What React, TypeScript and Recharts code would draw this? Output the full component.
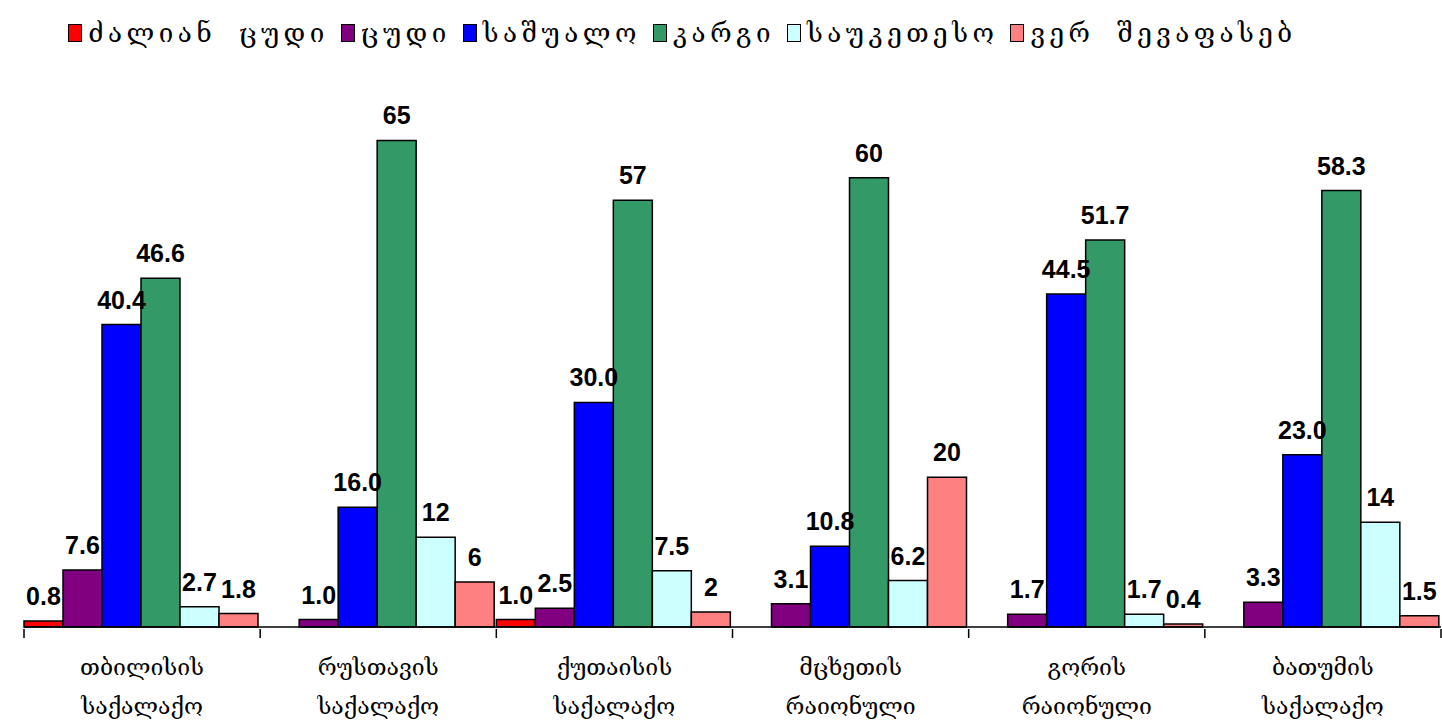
import { BarChart, Bar, XAxis, YAxis, Legend, LabelList } from 'recharts';

const CATEGORIES = [
  'თბილისის საქალაქო',
  'რუსთავის საქალაქო',
  'ქუთაისის საქალაქო',
  'მცხეთის რაიონული',
  'გორის რაიონული',
  'ბათუმის საქალაქო',
];

const VERY_BAD = [0.8, null, 1.0, null, null, null];
const BAD = [7.6, 1.0, 2.5, 3.1, 1.7, 3.3];
const AVERAGE = [40.4, 16.0, 30.0, 10.8, 44.5, 23.0];
const GOOD = [46.6, 65, 57, 60, 51.7, 58.3];
const EXCELLENT = [2.7, 12, 7.5, 6.2, 1.7, 14];
const CANT_SAY = [1.8, 6, 2, 20, 0.4, 1.5];

const SERIES = [
  { key: 'veryBad', name: 'ძალიან ცუდი', color: '#FF0000', fixed: true },
  { key: 'bad', name: 'ცუდი', color: '#800080', fixed: true },
  { key: 'average', name: 'საშუალო', color: '#0000FF', fixed: true },
  { key: 'good', name: 'კარგი', color: '#339966', fixed: false },
  { key: 'excellent', name: 'საუკეთესო', color: '#CCFFFF', fixed: false },
  { key: 'cantSay', name: 'ვერ შევაფასებ', color: '#FF8080', fixed: false },
];

const data = CATEGORIES.map((name, i) => ({
  name,
  veryBad: VERY_BAD[i],
  bad: BAD[i],
  average: AVERAGE[i],
  good: GOOD[i],
  excellent: EXCELLENT[i],
  cantSay: CANT_SAY[i],
}));

const W = 1442;
const H = 722;
const M_LEFT = 24;
const M_RIGHT = 1;
const BAND = (W - M_LEFT - M_RIGHT) / CATEGORIES.length;
const GEO_FONT = '"DejaVu Serif", "DejaVu Sans", serif';
const NUM_FONT = '"Liberation Sans", Arial, sans-serif';

function ValueLabel(props: any) {
  const { x, y, width, value, fixed } = props;
  if (value == null) return null;
  const text = fixed ? Number(value).toFixed(1) : String(value);
  return (
    <text x={x + width / 2} y={y - 16} textAnchor="middle" fontFamily={NUM_FONT} fontWeight="bold" fontSize={25} fill="#000">
      {text}
    </text>
  );
}

function CategoryTick(props: any) {
  const { x, y, payload, index } = props;
  const [l1, l2] = String(payload.value).split(' ');
  const half = BAND / 2;
  return (
    <g>
      <line x1={x - half} y1={y} x2={x - half} y2={y + 9} stroke="#000" strokeWidth={1.5} />
      {index === CATEGORIES.length - 1 && (
        <line x1={x + half} y1={y} x2={x + half} y2={y + 9} stroke="#000" strokeWidth={1.5} />
      )}
      <text x={x} y={y + 46} textAnchor="middle" fontFamily={GEO_FONT} fontSize={23} fill="#000">{l1}</text>
      <text x={x} y={y + 85} textAnchor="middle" fontFamily={GEO_FONT} fontSize={23} fill="#000">{l2}</text>
    </g>
  );
}

function LegendContent() {
  return (
    <div style={{ display: 'flex', justifyContent: 'center', alignItems: 'center', gap: 12, paddingRight: 100 }}>
      {SERIES.map(s => (
        <div key={s.key} style={{ display: 'flex', alignItems: 'center', gap: 6 }}>
          <div style={{ width: 12, height: 16, background: s.color, border: '1.5px solid #000' }} />
          <span style={{ fontFamily: GEO_FONT, fontSize: 26, letterSpacing: 4.5, wordSpacing: 10, color: '#000', whiteSpace: 'pre' }}>{s.name}</span>
        </div>
      ))}
    </div>
  );
}

export default function App() {
  return (
    <div style={{ position: 'absolute', left: 0, top: 0, width: W, height: H, background: '#fff' }}>
      <BarChart
        width={W}
        height={H}
        data={data}
        margin={{ top: 43, right: M_RIGHT, bottom: 0, left: M_LEFT }}
        barCategoryGap={0}
        barGap={0}
      >
        <Legend verticalAlign="top" height={60} content={<LegendContent />} wrapperStyle={{ top: 18 }} />
        <XAxis
          dataKey="name"
          height={95}
          tickSize={0}
          tickLine={false}
          axisLine={{ stroke: '#000', strokeWidth: 1.5 }}
          tick={<CategoryTick />}
          interval={0}
        />
        <YAxis hide domain={[0, 70]} />
        {SERIES.map(s => (
          <Bar key={s.key} dataKey={s.key} name={s.name} fill={s.color} stroke="#000" strokeWidth={1.5} isAnimationActive={false}>
            <LabelList dataKey={s.key} content={(p: any) => <ValueLabel {...p} fixed={s.fixed} />} />
          </Bar>
        ))}
      </BarChart>
    </div>
  );
}
